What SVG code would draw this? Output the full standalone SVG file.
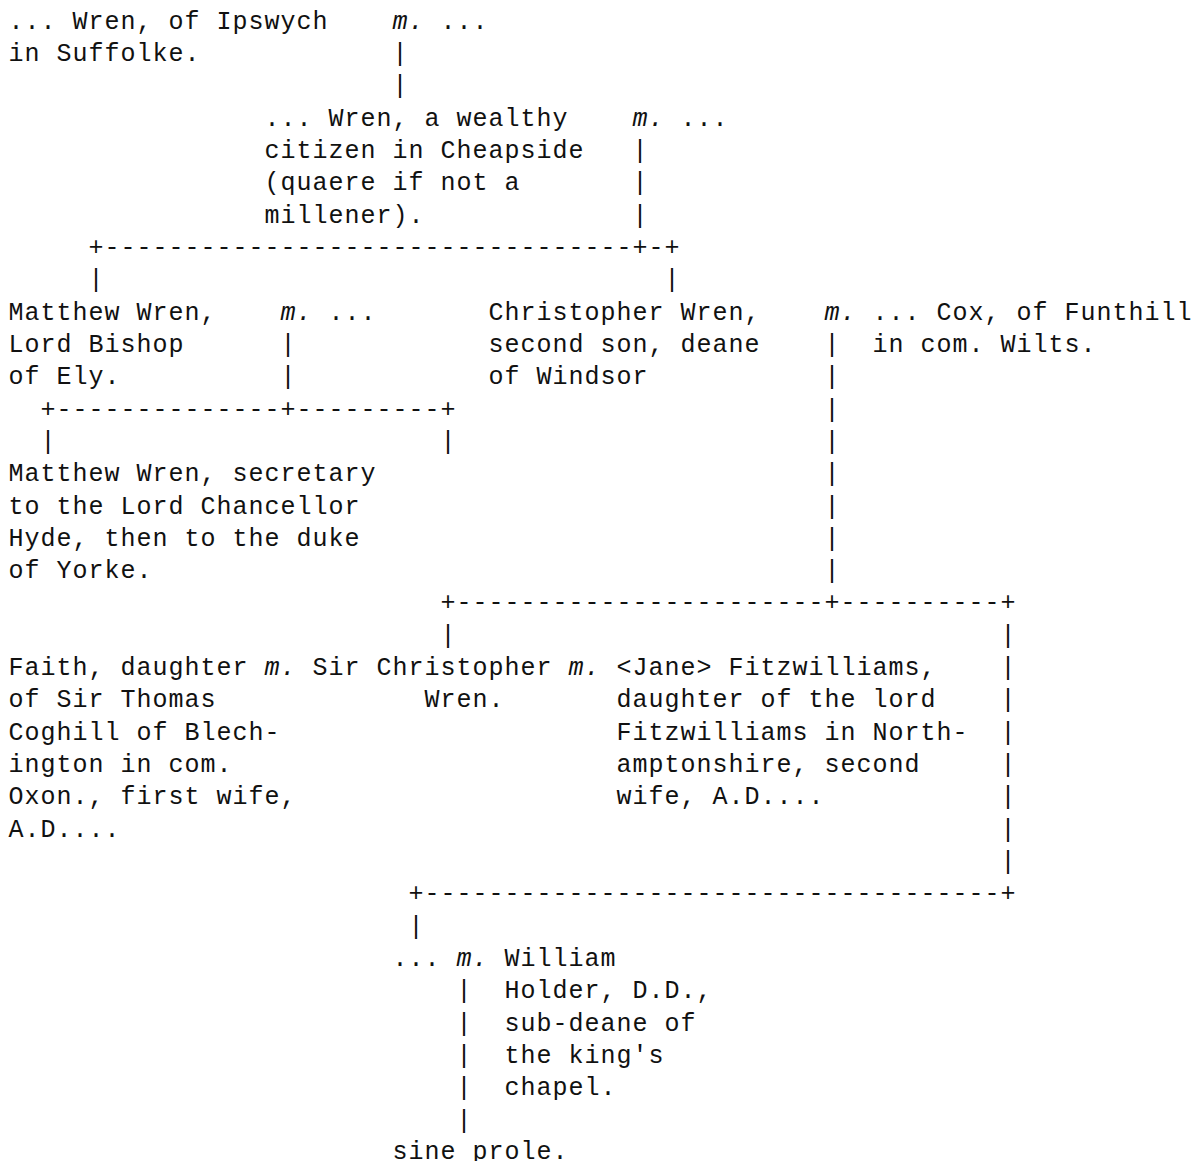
<svg xmlns="http://www.w3.org/2000/svg" width="1193" height="1161" viewBox="0 0 1193 1161">
<style>
text { font-family: "Liberation Mono", "Courier New", monospace; font-size: 25px; letter-spacing: 1px; fill: #111; white-space: pre; }
.m { font-style: italic; }
</style>
<rect width="1193" height="1161" fill="#fff"/>
<g transform="translate(0.5,0)">
<g id="connectors">
  <text x="392" y="60.8">|</text>
  <text x="392" y="93.2">|</text>
  <text x="632" y="157.8">|</text>
  <text x="632" y="190.2">|</text>
  <text x="632" y="222.5">|</text>
  <text x="88" y="254.8">+---------------------------------+-+</text>
  <text x="88" y="287.1">|</text>
  <text x="664" y="287.1">|</text>
  <text x="280" y="351.8">|</text>
  <text x="280" y="384.1">|</text>
  <text x="40" y="416.5">+--------------+---------+</text>
  <text x="40" y="448.8">|</text>
  <text x="440" y="448.8">|</text>
  <text x="824" y="351.8">|</text>
  <text x="824" y="384.1">|</text>
  <text x="824" y="416.5">|</text>
  <text x="824" y="448.8">|</text>
  <text x="824" y="481.1">|</text>
  <text x="824" y="513.5">|</text>
  <text x="824" y="545.8">|</text>
  <text x="824" y="578.1">|</text>
  <text x="440" y="610.4">+-----------------------+----------+</text>
  <text x="440" y="642.8">|</text>
  <text x="1000" y="642.8">|</text>
  <text x="1000" y="675.1">|</text>
  <text x="1000" y="707.4">|</text>
  <text x="1000" y="739.8">|</text>
  <text x="1000" y="772.1">|</text>
  <text x="1000" y="804.4">|</text>
  <text x="1000" y="836.8">|</text>
  <text x="1000" y="869.1">|</text>
  <text x="408" y="901.4">+------------------------------------+</text>
  <text x="408" y="933.7">|</text>
  <text x="456" y="998.4">|</text>
  <text x="456" y="1030.7">|</text>
  <text x="456" y="1063.1">|</text>
  <text x="456" y="1095.4">|</text>
  <text x="456" y="1127.7">|</text>
  <text class="m" x="392" y="28.5">m.</text>
  <text class="m" x="632" y="125.5">m.</text>
  <text class="m" x="280" y="319.5">m.</text>
  <text class="m" x="824" y="319.5">m.</text>
  <text class="m" x="264" y="675.1">m.</text>
  <text class="m" x="568" y="675.1">m.</text>
  <text class="m" x="456" y="966.1">m.</text>
</g>
<g id="wren-ipswych">
  <text x="8" y="28.5">... Wren, of Ipswych</text>
  <text x="8" y="60.8">in Suffolke.</text>
</g>
<g id="wife-ipswych">
  <text x="440" y="28.5">...</text>
</g>
<g id="wren-cheapside">
  <text x="264" y="125.5">... Wren, a wealthy</text>
  <text x="264" y="157.8">citizen in Cheapside</text>
  <text x="264" y="190.2">(quaere if not a</text>
  <text x="264" y="222.5">millener).</text>
</g>
<g id="wife-cheapside">
  <text x="680" y="125.5">...</text>
</g>
<g id="matthew-bishop">
  <text x="8" y="319.5">Matthew Wren,</text>
  <text x="8" y="351.8">Lord Bishop</text>
  <text x="8" y="384.1">of Ely.</text>
</g>
<g id="wife-matthew">
  <text x="328" y="319.5">...</text>
</g>
<g id="christopher-dean">
  <text x="488" y="319.5">Christopher Wren,</text>
  <text x="488" y="351.8">second son, deane</text>
  <text x="488" y="384.1">of Windsor</text>
</g>
<g id="cox">
  <text x="872" y="319.5">... Cox, of Funthill</text>
  <text x="872" y="351.8">in com. Wilts.</text>
</g>
<g id="matthew-secretary">
  <text x="8" y="481.1">Matthew Wren, secretary</text>
  <text x="8" y="513.5">to the Lord Chancellor</text>
  <text x="8" y="545.8">Hyde, then to the duke</text>
  <text x="8" y="578.1">of Yorke.</text>
</g>
<g id="faith">
  <text x="8" y="675.1">Faith, daughter</text>
  <text x="8" y="707.4">of Sir Thomas</text>
  <text x="8" y="739.8">Coghill of Blech-</text>
  <text x="8" y="772.1">ington in com.</text>
  <text x="8" y="804.4">Oxon., first wife,</text>
  <text x="8" y="836.8">A.D....</text>
</g>
<g id="sir-christopher">
  <text x="312" y="675.1">Sir Christopher</text>
  <text x="424" y="707.4">Wren.</text>
</g>
<g id="jane">
  <text x="616" y="675.1">&lt;Jane&gt; Fitzwilliams,</text>
  <text x="616" y="707.4">daughter of the lord</text>
  <text x="616" y="739.8">Fitzwilliams in North-</text>
  <text x="616" y="772.1">amptonshire, second</text>
  <text x="616" y="804.4">wife, A.D....</text>
</g>
<g id="daughter">
  <text x="392" y="966.1">...</text>
</g>
<g id="holder">
  <text x="504" y="966.1">William</text>
  <text x="504" y="998.4">Holder, D.D.,</text>
  <text x="504" y="1030.7">sub-deane of</text>
  <text x="504" y="1063.1">the king's</text>
  <text x="504" y="1095.4">chapel.</text>
</g>
<g id="sine-prole">
  <text x="392" y="1159">sine prole.</text>
</g>
</g>
</svg>
